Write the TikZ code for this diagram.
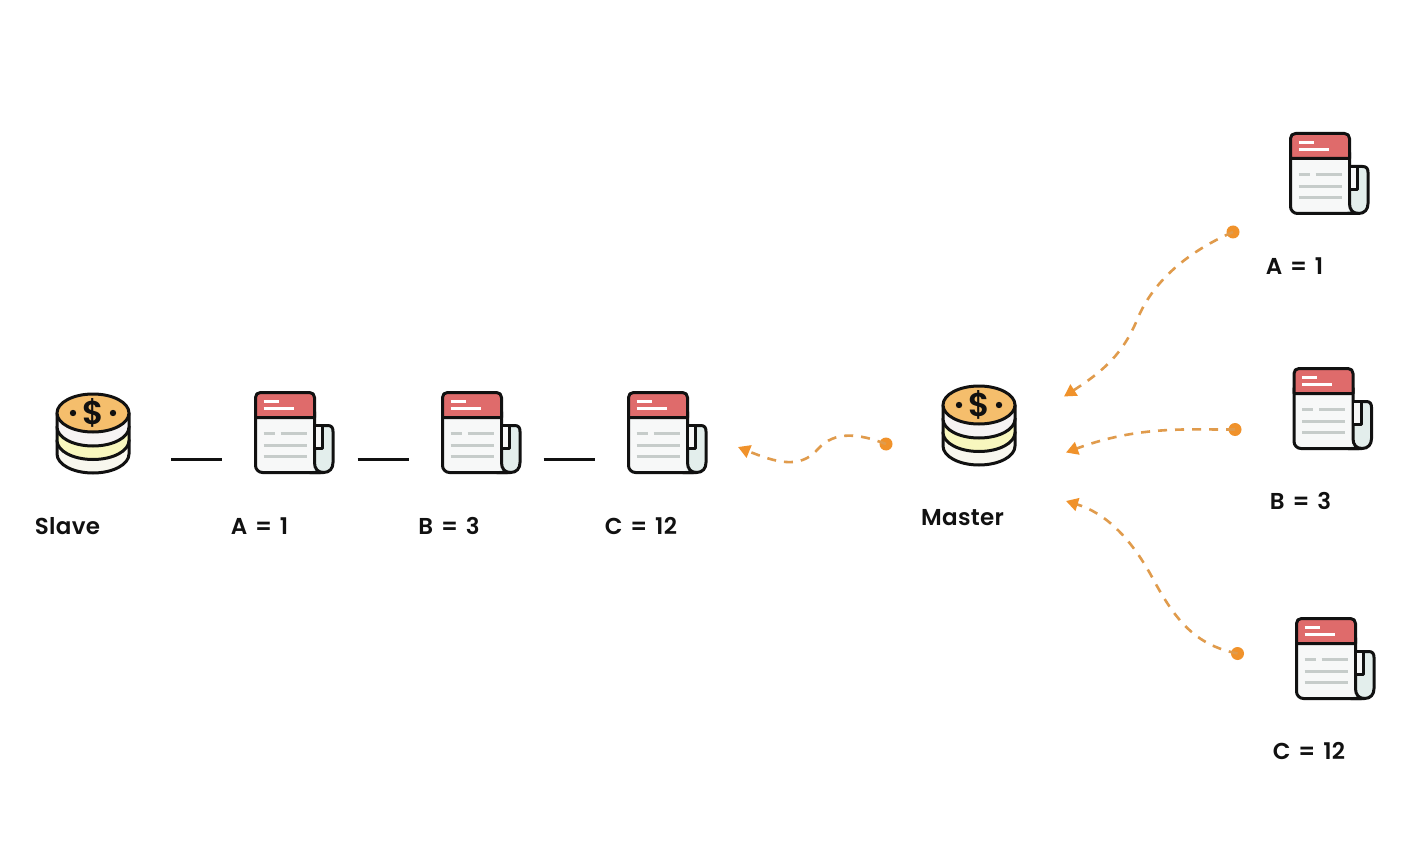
\documentclass[tikz,border=0pt]{standalone}
\usepackage{fontspec}
\setmainfont{Poppins SemiBold}[WordSpace=1.35,LetterSpace=1.5]
\usetikzlibrary{arrows.meta}
\definecolor{ink}{HTML}{111111}
\definecolor{dashc}{HTML}{E09B4C}
\definecolor{dotc}{HTML}{F0922B}
\definecolor{coinTop}{HTML}{F5BE6C}
\definecolor{coinA}{HTML}{F6F3F3}
\definecolor{coinB}{HTML}{F8F7BE}
\definecolor{coinC}{HTML}{F8F7EE}
\definecolor{docRed}{HTML}{DF6B6B}
\definecolor{docPage}{HTML}{F7F8F8}
\definecolor{docRoll}{HTML}{E3EEEC}
\definecolor{docLine}{HTML}{C6CCCA}
\tikzset{
  x=1pt,y=-1pt,
  ol/.style={draw=ink,line width=3pt,line join=round},
  lbl/.style={font=\fontsize{23}{26}\selectfont,text=ink,inner sep=0pt,anchor=center},
  barline/.style={draw=ink,line width=3pt},
  flow/.style={draw=dashc,line width=2.6pt,dash pattern=on 9pt off 8pt,-{Triangle[length=12pt,width=13pt,fill=dotc,color=dotc]}},
  dotn/.style={circle,fill=dotc,inner sep=0pt,minimum size=13pt},
  ghost/.style={inner sep=0pt,draw=none},
  whiteline/.style={draw=white,line width=2.6pt},
  grayline/.style={draw=docLine,line width=2.6pt},
  coinicon/.pic={
    \foreach \c/\f in {41/coinC,27.5/coinB,14/coinA}{
      \path[ol,fill=\f] (-36,\c-14) -- (-36,\c) .. controls (-36,\c+10.5) and (-20,\c+19) .. (0,\c+19)
        .. controls (20,\c+19) and (36,\c+10.5) .. (36,\c) -- (36,\c-14) -- cycle;
    }
    \path[ol,fill=coinTop] (0,0) ellipse [x radius=36,y radius=19];
    \fill[ink] (-20,0) circle (3.2) (20,0) circle (3.2);
    \node[ghost,font=\fontsize{33}{33}\selectfont,text=ink] at (0,-0.5) {\$};
    \node[ghost,minimum width=74pt,minimum height=81pt] (-box) at (0,20.5) {};
  },
  docicon/.pic={
    \path[ol,fill=docRoll] (58,34) -- (73,34) .. controls (77,34) and (78.5,36) .. (78.5,40)
      -- (78.5,71) .. controls (78.5,77) and (75,81) .. (69,81) -- (55,81) -- cycle;
    \path[fill=docPage,rounded corners=7pt] (2.2,20) -- (2.2,79.8) -- (62,79.8) -- (58.8,70) -- (58.8,20) -- cycle;
    \path[ol,rounded corners=7pt] (1,20) -- (1,81) -- (66,81);
    \draw[ol] (69,81) .. controls (63,81) and (60,77) .. (60,71) -- (60,20);
    \path[fill=docPage] (61.4,35.4) rectangle (67,56);
    \draw[ol] (68,34) -- (68,57) -- (60,57);
    \path[ol,fill=docRed] (1,26) -- (1,6) .. controls (1,3) and (3,1) .. (6,1) -- (55,1)
      .. controls (58,1) and (60,3) .. (60,6) -- (60,26) -- cycle;
    \draw[whiteline] (9,10) -- (24,10);
    \draw[whiteline] (9,17) -- (39,17);
    \draw[grayline] (9,42) -- (20,42) (26,42) -- (52,42) (9,54) -- (52,54) (9,65) -- (52,65);
    \node[ghost,minimum width=79pt,minimum height=82pt] (-box) at (39.5,41) {};
  }
}
\begin{document}
\begin{tikzpicture}
\useasboundingbox (0,0) rectangle (1402,858);
\fill[white] (0,0) rectangle (1402,858);

\pic (slave) at (93,413) {coinicon};
\pic (master) at (979,405) {coinicon};
\pic (sa) at (254.5,391.5) {docicon};
\pic (sb) at (441.5,391.5) {docicon};
\pic (sc) at (627.5,391.5) {docicon};
\pic (ma) at (1289.5,132.5) {docicon};
\pic (mb) at (1293,367.5) {docicon};
\pic (mc) at (1295.5,617.5) {docicon};

\node[lbl] (tslave) at (67.5,526) {Slave};
\node[lbl] (tsa) at (259.5,526) {A = 1};
\node[lbl] (tsb) at (449,526) {B = 3};
\node[lbl] (tsc) at (641,526) {C = 12};
\node[lbl] (tmaster) at (962.5,518) {Master};
\node[lbl] (tma) at (1294.5,266) {A = 1};
\node[lbl] (tmb) at (1300.5,501) {B = 3};
\node[lbl] (tmc) at (1309,751) {C = 12};

\draw[barline,shorten <=41pt,shorten >=32pt] ([yshift=-25.5pt]slave-box.east) -- ([yshift=-26.5pt]sa-box.west);
\draw[barline,shorten <=24pt,shorten >=32pt] ([yshift=-26.5pt]sa-box.east) -- ([yshift=-26.5pt]sb-box.west);
\draw[barline,shorten <=23pt,shorten >=32pt] ([yshift=-26.5pt]sb-box.east) -- ([yshift=-26.5pt]sc-box.west);

\node[dotn] (d1) at (1233,232) {};
\node[dotn] (d2) at (1235,429.5) {};
\node[dotn] (d3) at (1237.5,653.5) {};
\node[dotn] (d4) at (886,444) {};
\coordinate (e1) at (1064,396.5);
\coordinate (e2) at (1066,452.5);
\coordinate (e3) at (1066,501);
\coordinate (e4) at (738,447);

\draw[flow] (d1.center) .. controls (1185,253) and (1152,283) .. (1137,320)
  .. controls (1123,353) and (1105,370) .. (e1);
\draw[flow] (d2.center) .. controls (1190,430) and (1140,425) .. (e2);
\draw[flow] (d3.center) .. controls (1195,645) and (1175,620) .. (1152,577)
  .. controls (1130,537) and (1105,513) .. (e3);
\draw[flow] (d4.center) .. controls (860,434) and (835,430) .. (818,449)
  .. controls (800,470) and (775,462) .. (e4);
\end{tikzpicture}
\end{document}
